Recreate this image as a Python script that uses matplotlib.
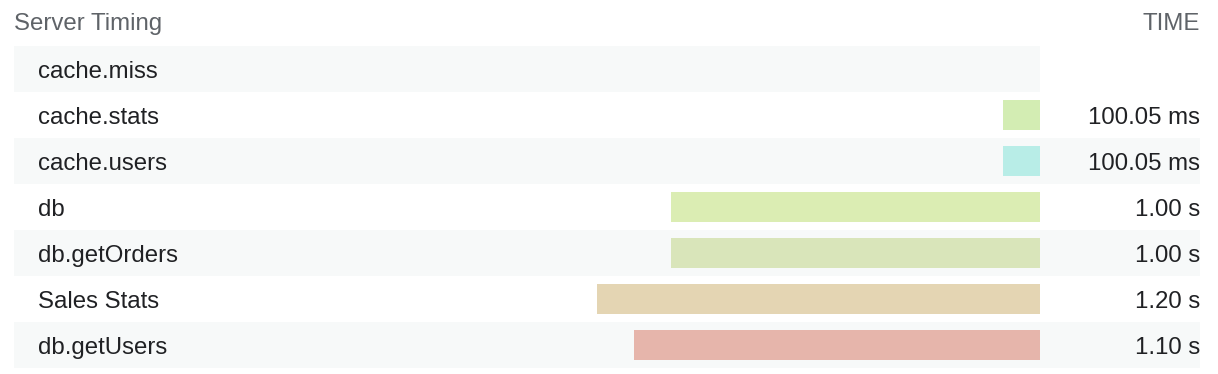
import numpy as np
import matplotlib
matplotlib.use("Agg")
from matplotlib import pyplot as plt

#
# Data
#
names = ["cache.miss", "cache.stats", "cache.users", "db",
         "db.getOrders", "Sales Stats", "db.getUsers"]
durations_s = [np.nan, 0.10005, 0.10005, 1.00, 1.00, 1.20, 1.10]
time_labels = ["", "100.05 ms", "100.05 ms", "1.00 s", "1.00 s", "1.20 s", "1.10 s"]
bar_colors = ["#ffffff", "#d3edb3", "#b8ede7", "#dbedb3",
              "#d9e5ba", "#e4d5b3", "#e6b5ab"]

#
# Layout (pixels)
#
W, H = 1218, 374
left_px, bar_end_px, right_px = 14, 1040, 1200
top_px, row_h = 46, 46
px_per_s = 369.0
zebra = "#f7f9f9"
fs = 24 * 72 / 100
plt.rcParams['font.family'] = ['Liberation Sans', 'DejaVu Sans']

if __name__ == "__main__":
    fig = plt.figure(figsize=(W / 100, H / 100), dpi=100)
    n = len(names)
    bottom_px = top_px + n * row_h
    dy = 3 / row_h  # nudge text down a little

    # background / text axes
    bg = fig.add_axes([left_px / W, 1 - bottom_px / H,
                       (right_px - left_px) / W, (bottom_px - top_px) / H])
    bg.set_xlim(left_px, right_px)
    bg.set_ylim(n, 0)
    bg.axis("off")
    for i in range(n):
        if i % 2 == 0:
            xmax = 1.0 if i > 0 else (bar_end_px - left_px) / (right_px - left_px)
            bg.axhspan(i, i + 1, xmin=0, xmax=xmax, color=zebra, lw=0)
        bg.text(38, i + 0.5 + dy, names[i], fontsize=fs, color="#202124",
                ha="left", va="center")
        bg.text(right_px, i + 0.5 + dy, time_labels[i], fontsize=fs, color="#202124",
                ha="right", va="center")
    bg.text(left_px, -0.52 + dy * 0.7, "Server Timing", fontsize=fs, color="#5f6368",
            ha="left", va="center", clip_on=False)
    bg.text(right_px, -0.52 + dy * 0.7, "TIME", fontsize=fs, color="#5f6368",
            ha="right", va="center", clip_on=False)

    # bar axes, growing leftwards from bar_end_px
    ax = fig.add_axes([left_px / W, 1 - bottom_px / H,
                       (bar_end_px - left_px) / W, (bottom_px - top_px) / H])
    ax.patch.set_alpha(0)
    ax.set_xlim((bar_end_px - left_px) / px_per_s, 0)
    ax.set_ylim(n, 0)
    ax.axis("off")
    y = np.arange(n) + 0.5
    ax.barh(y, np.nan_to_num(durations_s), height=30 / row_h,
            color=bar_colors, lw=0)

    fig.savefig("out.png", dpi=100)
